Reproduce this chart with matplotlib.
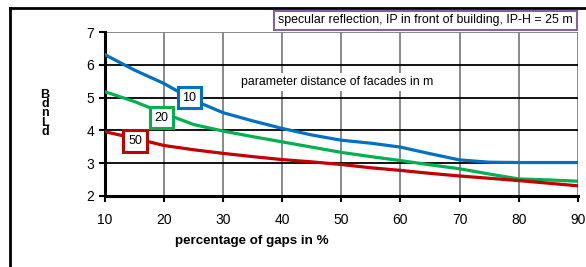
import numpy as np
import matplotlib
matplotlib.use('Agg')
import matplotlib.pyplot as plt

plt.rcParams['font.family'] = ['Liberation Sans', 'DejaVu Sans']

# data
gaps = [10, 15, 20, 25, 30, 35, 40, 45, 50, 55, 60, 65, 70, 75, 80, 85, 90]
d10 = [6.31, 5.84, 5.43, 4.92, 4.54, 4.29, 4.06, 3.86, 3.70, 3.61, 3.49, 3.29, 3.10, 3.03, 3.02, 3.02, 3.02]
d20 = [5.18, 4.88, 4.52, 4.18, 3.98, 3.81, 3.65, 3.49, 3.33, 3.20, 3.08, 2.95, 2.83, 2.67, 2.52, 2.49, 2.45]
d50 = [3.96, 3.76, 3.54, 3.41, 3.30, 3.20, 3.11, 3.04, 2.96, 2.86, 2.78, 2.69, 2.61, 2.54, 2.47, 2.39, 2.31]

series = [('10', d10, '#0070C0', (24.3, 5.0)),
          ('20', d20, '#00B050', (19.6, 4.39)),
          ('50', d50, '#C00000', (15.1, 3.68))]

fig = plt.figure(figsize=(5.86, 2.67), dpi=100)
ax = fig.add_axes([0.179, 0.266, 0.807, 0.614])

for name, vals, col, pos in series:
    ax.plot(gaps, vals, color=col, lw=2.3, zorder=3, solid_joinstyle='round')
    ax.text(pos[0], pos[1], name, ha='center', va='center', fontsize=9, zorder=5,
            bbox=dict(boxstyle='square,pad=0.38', fc='white', ec=col, lw=2.2))

ax.text(33, 5.47, 'parameter distance of facades in m', ha='left', va='center',
        fontsize=8.8, zorder=4,
        bbox=dict(boxstyle='square,pad=0.25', fc='white', ec='none'))

ax.set_xlim(10, 90)
ax.set_ylim(2, 7)
ax.set_xticks(range(10, 91, 10))
ax.set_yticks(range(2, 8))
ax.tick_params(labelsize=10, direction='out', length=4, width=1.5, colors='black')
ax.tick_params(axis='x', pad=8)

# grid: gray verticals, black horizontals
for xv in range(20, 91, 10):
    ax.axvline(xv, color='#808080', lw=1.3, zorder=1)
for yv in range(3, 8):
    ax.axhline(yv, color='#808080' if yv == 7 else 'black', lw=1.3, zorder=1)

for s in ['top', 'right']:
    ax.spines[s].set_visible(False)
for s in ['left', 'bottom']:
    ax.spines[s].set_linewidth(2.2)

fig.text(0.43, 0.098, 'percentage of gaps in %', ha='center', va='center',
         fontsize=9.6, fontweight='bold')
fig.text(0.077, 0.575, 'B\nd\nn\nL\nd', ha='center', va='center',
         fontsize=9, fontweight='bold', linespacing=0.7)

fig.text(0.4745, 0.924, 'specular reflection, IP in front of building, IP-H = 25 m',
         ha='left', va='center', fontsize=8.9,
         bbox=dict(boxstyle='square,pad=0.3', fc='white', ec='#8064A2', lw=1.5))

# outer frame (left and top)
fig.add_artist(plt.Line2D([0.017, 0.017], [0.0, 0.97], color='black', lw=2))
fig.add_artist(plt.Line2D([0.017, 1.0], [0.97, 0.97], color='black', lw=2))

fig.savefig('out.png', dpi=100)
